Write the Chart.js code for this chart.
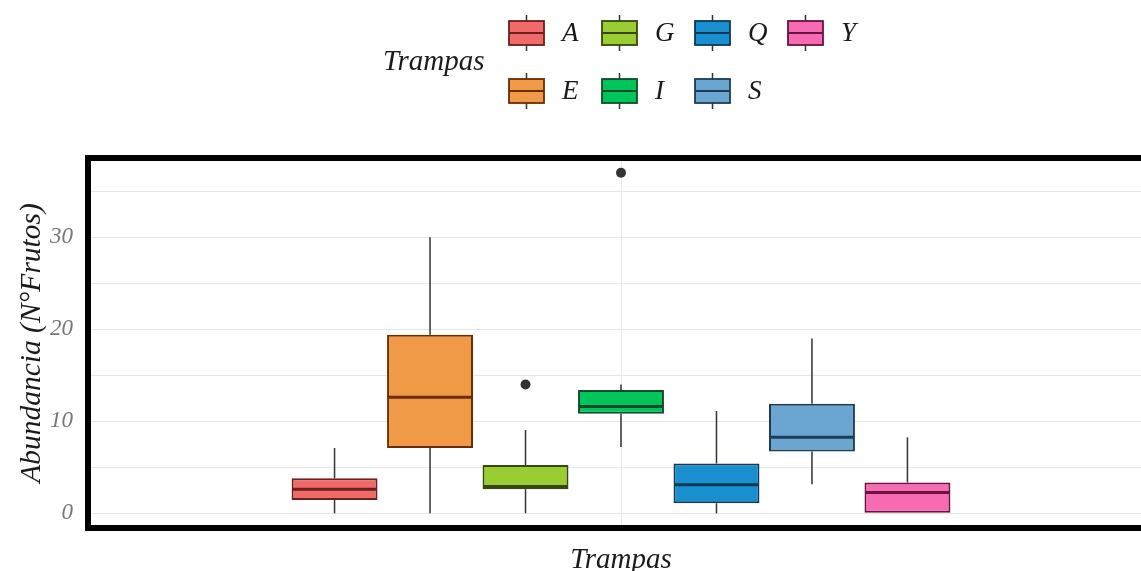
<!DOCTYPE html>
<html>
<head>
<meta charset="utf-8">
<script src="https://cdn.jsdelivr.net/npm/chart.js@4"></script>
<style>
  html, body { margin: 0; padding: 0; background: #fff; overflow: hidden; }
  #wrap { width: 1141px; height: 571px; overflow: hidden; }
</style>
</head>
<body>
<div id="wrap"><canvas id="boxes" width="1170" height="571"></canvas></div>
<script>
// datos
const trampas = ["A", "E", "G", "I", "Q", "S", "Y"];
const q1 = [1.45, 7.1, 2.6, 10.8, 1.1, 6.7, 0];
const q3 = [3.8, 19.4, 5.25, 13.4, 5.4, 11.9, 3.35];
const medianas = [2.6, 12.6, 2.9, 11.6, 3.1, 8.25, 2.25];
const bigoteMin = [0, 0, 0, 7.2, 0, 3.15, 0];
const bigoteMax = [7.1, 30, 9.05, 14, 11.1, 19, 8.25];
const atipicos = [[], [], [14], [37], [], [], []];
const yTicks = [0, 5, 10, 15, 20, 25, 30, 35];
const yLabels = [0, 10, 20, 30];

const rellenos = ["#F06A6A", "#F09A48", "#9ACD32", "#00C55A", "#1A8FCF", "#6AA6D0", "#F66BB1"];
const oscuros = ["#6B1F1F", "#6B2C00", "#36470F", "#114A2A", "#0F3A55", "#1C3C57", "#6A1243"];

const serif = "'Liberation Serif', 'Times New Roman', serif";

var datasets = trampas.map(function (t, i) {
  return {
    label: t,
    data: [[q1[i], q3[i]]],
    backgroundColor: rellenos[i],
    borderColor: oscuros[i],
    borderWidth: 2,
    borderSkipped: false,
  };
});

// bigotes, medianas, atipicos, borde y leyenda
const boxExtras = {
  id: "boxExtras",
  beforeDatasetsDraw(chart) {
    const ctx = chart.ctx;
    const y = chart.scales.y;
    ctx.save();
    ctx.strokeStyle = "#333333";
    ctx.lineWidth = 1.5;
    chart.data.datasets.forEach(function (ds, i) {
      const bar = chart.getDatasetMeta(i).data[0];
      ctx.beginPath();
      ctx.moveTo(bar.x, y.getPixelForValue(bigoteMin[i]));
      ctx.lineTo(bar.x, y.getPixelForValue(q1[i]));
      ctx.moveTo(bar.x, y.getPixelForValue(q3[i]));
      ctx.lineTo(bar.x, y.getPixelForValue(bigoteMax[i]));
      ctx.stroke();
    });
    ctx.restore();
  },
  afterDatasetsDraw(chart) {
    const ctx = chart.ctx;
    const y = chart.scales.y;
    ctx.save();
    chart.data.datasets.forEach(function (ds, i) {
      const bar = chart.getDatasetMeta(i).data[0];
      const w = bar.width / 2;
      const my = y.getPixelForValue(medianas[i]);
      ctx.strokeStyle = oscuros[i];
      ctx.lineWidth = 3;
      ctx.beginPath();
      ctx.moveTo(bar.x - w + 1, my);
      ctx.lineTo(bar.x + w - 1, my);
      ctx.stroke();
      ctx.fillStyle = "#333333";
      atipicos[i].forEach(function (v) {
        ctx.beginPath();
        ctx.arc(bar.x, y.getPixelForValue(v), 5, 0, Math.PI * 2);
        ctx.fill();
      });
    });
    ctx.restore();
  },
  afterDraw(chart) {
    const ctx = chart.ctx;
    const a = chart.chartArea;
    ctx.save();
    // borde del panel
    ctx.strokeStyle = "#000";
    ctx.lineWidth = 6;
    ctx.strokeRect(a.left, a.top, a.right - a.left, a.bottom - a.top);

    // leyenda
    ctx.fillStyle = "#1a1a1a";
    ctx.textBaseline = "middle";
    ctx.textAlign = "left";
    ctx.font = "italic 29px " + serif;
    ctx.fillText("Trampas", 383, 62);
    const filas = [33, 91];
    ctx.font = "italic 27px " + serif;
    chart.data.datasets.forEach(function (ds, i) {
      const x0 = 509 + Math.floor(i / 2) * 93;
      const cy = filas[i % 2];
      ctx.strokeStyle = "#333333";
      ctx.lineWidth = 1.5;
      ctx.beginPath();
      ctx.moveTo(x0 + 17.5, cy - 18);
      ctx.lineTo(x0 + 17.5, cy + 18);
      ctx.stroke();
      ctx.fillStyle = ds.backgroundColor;
      ctx.fillRect(x0, cy - 12, 35, 24);
      ctx.strokeStyle = ds.borderColor;
      ctx.lineWidth = 1.8;
      ctx.strokeRect(x0, cy - 12, 35, 24);
      ctx.lineWidth = 2;
      ctx.beginPath();
      ctx.moveTo(x0, cy);
      ctx.lineTo(x0 + 35, cy);
      ctx.stroke();
      ctx.fillStyle = "#1a1a1a";
      ctx.fillText(ds.label, x0 + 53, cy + 1);
    });
    ctx.restore();
  },
};

var chart = new Chart(document.getElementById("boxes").getContext("2d"), {
  type: "bar",
  data: { labels: [""], datasets: datasets },
  options: {
    responsive: false,
    animation: false,
    devicePixelRatio: 1,
    categoryPercentage: 0.627,
    barPercentage: 0.9,
    layout: { padding: { top: 158, right: 16, left: 0, bottom: 0 } },
    plugins: { legend: { display: false }, tooltip: { enabled: false } },
    scales: {
      x: {
        grid: { color: "#e6e6e6", lineWidth: 1, offset: false, drawTicks: false },
        border: { display: false },
        ticks: { display: false },
        title: {
          display: true,
          text: "Trampas",
          color: "#1a1a1a",
          font: { family: serif, size: 29, style: "italic", lineHeight: 0.75 },
          padding: 0,
        },
        afterFit: function (s) { s.height = 43; },
      },
      y: {
        min: -1.6,
        max: 38.6,
        afterBuildTicks: function (s) {
          s.ticks = yTicks.map(function (v) { return { value: v }; });
        },
        grid: { color: "#e6e6e6", lineWidth: 1, drawTicks: false },
        border: { display: false },
        ticks: {
          padding: 15,
          color: "#777777",
          font: { family: serif, size: 23, style: "italic" },
          callback: function (v) { return yLabels.indexOf(v) >= 0 ? String(v) : ""; },
        },
        title: {
          display: true,
          text: "Abundancia (N°Frutos)",
          color: "#1a1a1a",
          font: { family: serif, size: 29.5, style: "italic", lineHeight: 1 },
          padding: { top: 17, bottom: 0 },
        },
        afterFit: function (s) { s.width = 88; },
      },
    },
  },
  plugins: [boxExtras],
});
</script>
</body>
</html>
